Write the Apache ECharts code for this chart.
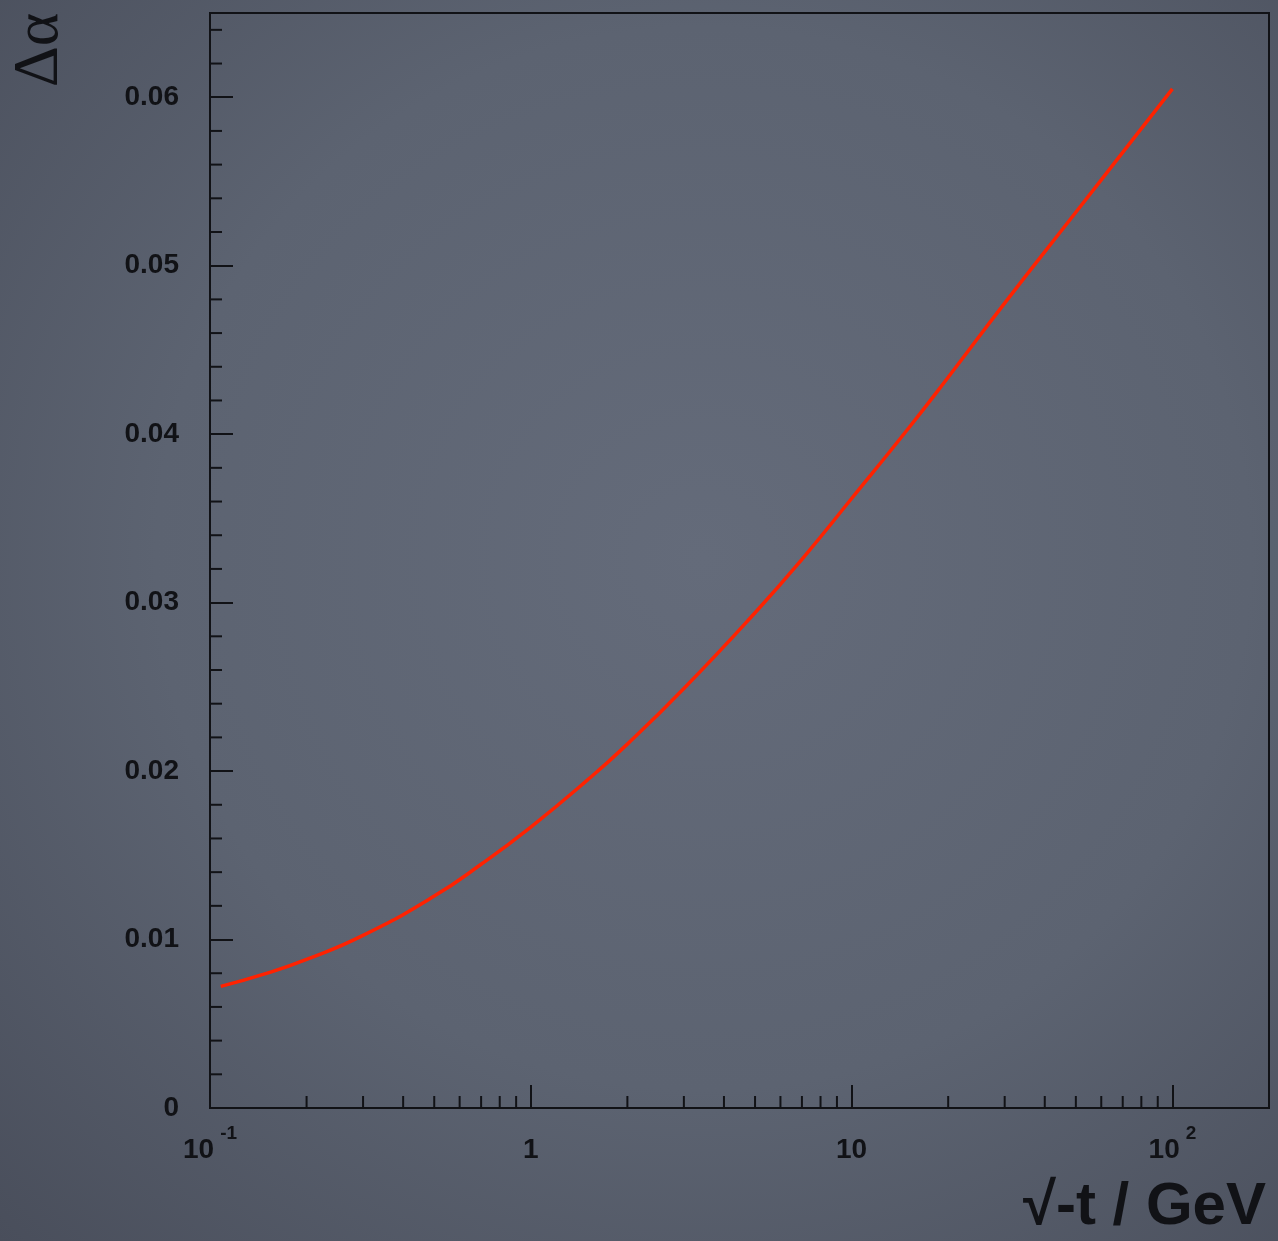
<!DOCTYPE html>
<html><head><meta charset="utf-8">
<script src="https://cdn.jsdelivr.net/npm/echarts@6/dist/echarts.min.js"></script>
<style>
html,body{margin:0;padding:0;width:1278px;height:1241px;overflow:hidden;}
body{background: radial-gradient(ellipse at 55% 45%, #646b7a 0%, #5c6371 55%, #494e5b 100%);}
#c{width:1278px;height:1241px;}
</style></head><body><div id="c"></div>
<script>
// curve: sqrt(-t) in GeV vs delta alpha
const tValues   = [0.108, 0.15, 0.2, 0.3, 0.5, 0.7, 1, 1.5, 2, 3, 5, 7, 10, 15, 20, 30, 50, 70, 100];
const deltaAlpha = [0.00722, 0.00799, 0.00882, 0.01025, 0.01258, 0.01447, 0.01668, 0.01946, 0.0216, 0.0249, 0.0294, 0.03257, 0.03618, 0.04032, 0.04338, 0.04778, 0.05317, 0.05673, 0.0605];
const xMinorTicks = [0.2,0.3,0.4,0.5,0.6,0.7,0.8,0.9, 2,3,4,5,6,7,8,9, 20,30,40,50,60,70,80,90];
const yMinorTicks = [0.002,0.004,0.006,0.008, 0.012,0.014,0.016,0.018, 0.022,0.024,0.026,0.028,
                     0.032,0.034,0.036,0.038, 0.042,0.044,0.046,0.048, 0.052,0.054,0.056,0.058, 0.062,0.064];
const yTickLabels = ['0', '0.01', '0.02', '0.03', '0.04', '0.05', '0.06'];
const xTickLabels = {0.1: '{b|10}{s|-1}', 1: '{b|1}', 10: '{b|10}', 100: '{b|10}{s|2}'};

const INK = '#111216';
const chart = echarts.init(document.getElementById('c'), null, {renderer: 'canvas'});
const labelFont = {fontFamily: '"Liberation Sans", Arial, sans-serif', fontWeight: 'bold', fontSize: 28, color: INK};

chart.setOption({
  backgroundColor: 'transparent',
  animation: false,
  grid: {left: 210, right: 9, top: 13, bottom: 133, show: true, borderColor: INK, borderWidth: 2, backgroundColor: 'transparent'},
  xAxis: {
    type: 'log', logBase: 10, min: 0.1, max: 200,
    axisLine: {show: true, lineStyle: {color: INK, width: 2}},
    axisTick: {show: true, inside: true, length: 23, lineStyle: {color: INK, width: 2}},
    minorTick: {show: false},
    splitLine: {show: false},
    axisLabel: {
      margin: 16,
      showMaxLabel: false,
      formatter: function (v) {
        for (const k in xTickLabels) { if (Math.abs(Math.log10(v) - Math.log10(+k)) < 1e-6) return xTickLabels[k]; }
        return '';
      },
      rich: {
        b: Object.assign({}, labelFont, {lineHeight: 40, verticalAlign: 'bottom'}),
        s: Object.assign({}, labelFont, {fontSize: 19, lineHeight: 33, verticalAlign: 'top', padding: [0, 0, 0, 6]})
      }
    }
  },
  yAxis: {
    type: 'value', min: 0, max: 0.065, interval: 0.01,
    axisLine: {show: true, lineStyle: {color: INK, width: 2}},
    axisTick: {show: true, inside: true, length: 23, lineStyle: {color: INK, width: 2}},
    splitLine: {show: false},
    axisLabel: Object.assign({}, labelFont, {
      margin: 31,
      formatter: function (v) {
        const i = Math.round(v / 0.01);
        if (Math.abs(v - i * 0.01) > 1e-9 || i >= yTickLabels.length) return '';
        return yTickLabels[i];
      }
    })
  },
  series: [
    {
      type: 'line', smooth: 0.5, showSymbol: false, symbol: 'none',
      data: tValues.map((t, i) => [t, deltaAlpha[i]]),
      lineStyle: {color: '#ff2200', width: 3.5}, z: 5
    },
    {
      type: 'custom', silent: true, z: 4,
      data: xMinorTicks.map(v => [v, 0]),
      renderItem: function (params, api) {
        const p = api.coord([api.value(0), 0]);
        return {type: 'line', shape: {x1: p[0], y1: p[1], x2: p[0], y2: p[1] - 12}, style: {stroke: INK, lineWidth: 2}};
      }
    },
    {
      type: 'custom', silent: true, z: 4,
      data: yMinorTicks.map(v => [0.1, v]),
      renderItem: function (params, api) {
        const p = api.coord([0.1, api.value(1)]);
        return {type: 'line', shape: {x1: p[0], y1: p[1], x2: p[0] + 12, y2: p[1]}, style: {stroke: INK, lineWidth: 2}};
      }
    }
  ],
  graphic: [
    {type: 'text', x: 40, y: 50, rotation: Math.PI / 2,
     style: {text: 'Δα', font: 'normal 64px "Liberation Serif", "DejaVu Serif", serif', fill: INK, textAlign: 'center', textVerticalAlign: 'middle'}},
    {type: 'text', x: 1266, y: 1207,
     style: {text: '√-t / GeV', font: 'bold 60px "Liberation Sans", Arial, sans-serif', fill: INK, textAlign: 'right', textVerticalAlign: 'middle'}}
  ]
});
</script></body></html>
